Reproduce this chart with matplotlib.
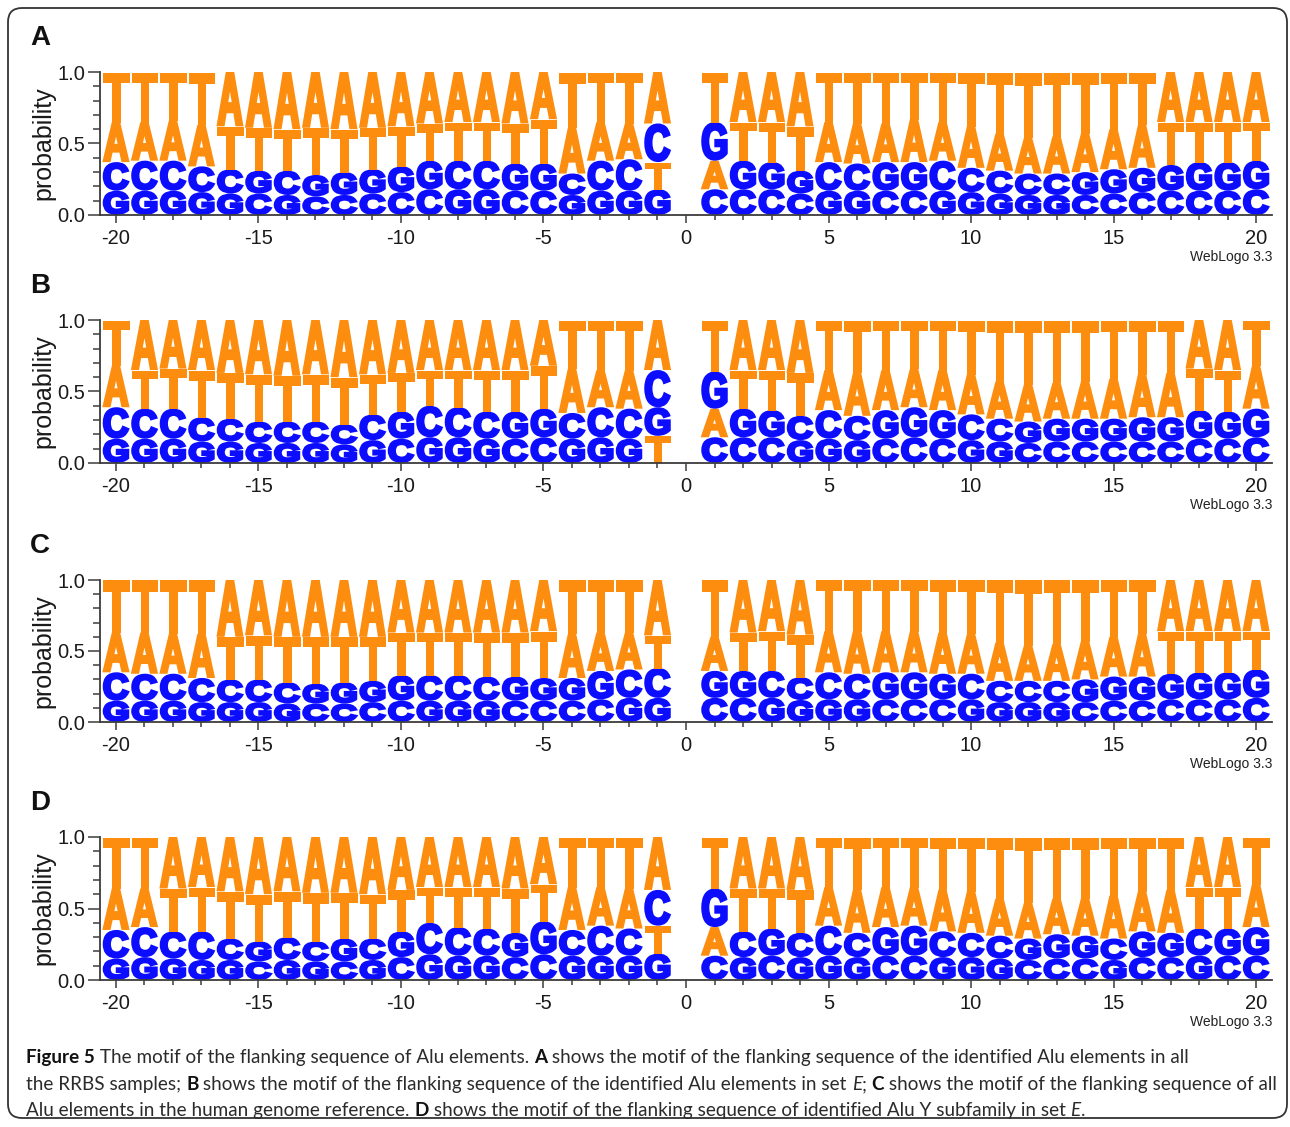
import matplotlib

matplotlib.use("Agg")
import matplotlib.pyplot as plt
from matplotlib.font_manager import FontProperties
from matplotlib.patches import FancyBboxPatch, PathPatch
from matplotlib.textpath import TextPath
from matplotlib.transforms import Affine2D

# sequence positions around the Alu insertion site (0 is the site itself)
positions = list(range(-20, 0)) + list(range(1, 21))

# --- panel A: all RRBS samples ---
a_A = [.28, .27, .28, .29, .38, .39, .40, .39, .40, .39, .38, .36, .35, .35, .36, .33, .32, .27, .25, .36,
       .20, .35, .35, .38, .28, .28, .27, .30, .27, .29, .26, .25, .26, .27, .28, .30, .35, .35, .35, .35]
a_C = [.20, .21, .21, .18, .17, .15, .17, .13, .14, .15, .16, .18, .20, .20, .17, .17, .15, .21, .22, .27,
       .18, .18, .18, .15, .20, .19, .17, .17, .21, .17, .16, .15, .15, .14, .15, .16, .17, .17, .17, .18]
a_G = [.17, .17, .17, .16, .15, .16, .14, .15, .16, .17, .18, .20, .18, .18, .19, .19, .14, .17, .17, .18,
       .27, .20, .19, .16, .17, .17, .20, .20, .17, .16, .15, .14, .14, .16, .17, .17, .18, .20, .20, .20]
a_T = [.35, .35, .34, .37, .30, .30, .29, .33, .30, .29, .28, .26, .27, .27, .28, .31, .39, .35, .36, .19,
       .35, .27, .28, .31, .35, .36, .36, .33, .35, .38, .43, .46, .45, .43, .40, .37, .30, .28, .28, .27]

# --- panel B: set E ---
b_A = [.29, .35, .34, .35, .37, .38, .39, .38, .40, .38, .37, .35, .35, .35, .35, .32, .31, .26, .27, .35,
       .20, .35, .35, .37, .28, .30, .28, .27, .28, .28, .26, .26, .25, .26, .28, .30, .31, .34, .35, .30]
b_C = [.22, .21, .21, .17, .16, .15, .15, .15, .14, .18, .17, .22, .21, .19, .17, .18, .18, .21, .21, .26,
       .18, .18, .18, .17, .20, .17, .17, .18, .17, .18, .16, .14, .15, .15, .15, .15, .15, .17, .17, .18]
b_G = [.17, .17, .17, .15, .15, .14, .14, .14, .13, .16, .19, .18, .18, .17, .19, .20, .17, .18, .17, .20,
       .26, .20, .19, .16, .17, .16, .20, .21, .20, .16, .15, .15, .16, .16, .16, .17, .17, .20, .19, .20]
b_T = [.32, .27, .28, .33, .32, .33, .32, .33, .33, .28, .27, .25, .26, .29, .29, .30, .34, .35, .35, .19,
       .36, .27, .28, .30, .35, .37, .35, .34, .35, .38, .43, .45, .44, .43, .41, .38, .37, .29, .29, .32]

# --- panel C: human genome reference ---
c_A = [.28, .29, .28, .31, .40, .39, .40, .40, .40, .40, .37, .37, .37, .37, .37, .36, .31, .27, .26, .39,
       .24, .37, .36, .385, .29, .30, .29, .29, .29, .28, .27, .25, .26, .27, .28, .30, .36, .36, .36, .36]
c_C = [.20, .19, .19, .17, .16, .16, .15, .13, .13, .14, .15, .18, .18, .17, .15, .15, .15, .16, .20, .21,
       .17, .17, .19, .16, .19, .18, .16, .16, .16, .18, .15, .15, .15, .14, .15, .15, .16, .16, .16, .17]
c_G = [.15, .15, .15, .14, .14, .14, .13, .14, .15, .15, .18, .15, .15, .15, .17, .16, .16, .20, .17, .17,
       .19, .19, .17, .155, .16, .16, .19, .19, .18, .16, .14, .14, .14, .16, .17, .17, .18, .19, .19, .20]
c_T = [.37, .37, .38, .38, .30, .31, .32, .33, .32, .31, .30, .30, .30, .31, .31, .33, .38, .37, .37, .23,
       .40, .27, .28, .30, .36, .36, .36, .36, .37, .38, .44, .46, .45, .43, .40, .38, .30, .29, .29, .27]

# --- panel D: Alu Y subfamily in set E ---
d_A = [.29, .27, .36, .35, .38, .40, .38, .39, .39, .40, .37, .35, .35, .35, .36, .33, .30, .27, .28, .37,
       .20, .36, .36, .37, .27, .30, .28, .27, .29, .29, .26, .25, .25, .26, .30, .28, .30, .35, .35, .30]
d_C = [.20, .21, .19, .20, .15, .13, .16, .14, .13, .15, .16, .22, .20, .19, .16, .18, .18, .21, .19, .25,
       .17, .18, .17, .17, .21, .17, .17, .17, .18, .17, .16, .14, .15, .15, .15, .16, .16, .19, .17, .17]
d_G = [.15, .16, .15, .14, .14, .14, .14, .13, .16, .14, .18, .18, .17, .17, .17, .23, .17, .17, .17, .185,
       .27, .16, .19, .16, .17, .16, .20, .21, .16, .16, .15, .15, .17, .16, .14, .18, .17, .17, .19, .20]
d_T = [.36, .36, .30, .31, .33, .33, .32, .34, .32, .31, .29, .25, .28, .29, .31, .26, .35, .35, .36, .195,
       .36, .30, .28, .30, .35, .37, .35, .35, .37, .38, .43, .46, .43, .43, .41, .38, .37, .29, .29, .33]

panels = [
    ("A", {"A": a_A, "C": a_C, "G": a_G, "T": a_T}, 72, 215),
    ("B", {"A": b_A, "C": b_C, "G": b_G, "T": b_T}, 320, 463),
    ("C", {"A": c_A, "C": c_C, "G": c_G, "T": c_T}, 580, 722),
    ("D", {"A": d_A, "C": d_C, "G": d_G, "T": d_T}, 837, 980),
]

caption_lines = [
    [("Figure 5", "bold", "normal"),
     (" The motif of the flanking sequence of Alu elements. ", "normal", "normal"),
     ("A", "bold", "normal"),
     (" shows the motif of the flanking sequence of the identified Alu elements in all", "normal", "normal")],
    [("the RRBS samples; ", "normal", "normal"),
     ("B", "bold", "normal"),
     (" shows the motif of the flanking sequence of the identified Alu elements in set ", "normal", "normal"),
     ("E", "normal", "italic"),
     ("; ", "normal", "normal"),
     ("C", "bold", "normal"),
     (" shows the motif of the flanking sequence of all", "normal", "normal")],
    [("Alu elements in the human genome reference. ", "normal", "normal"),
     ("D", "bold", "normal"),
     (" shows the motif of the flanking sequence of identified Alu Y subfamily in set ", "normal", "normal"),
     ("E", "normal", "italic"),
     (".", "normal", "normal")],
]

ORANGE = "#fd8d0e"
BLUE = "#0c0cff"
COLORS = {"A": ORANGE, "T": ORANGE, "C": BLUE, "G": BLUE}
AXIS_COLOR = "#3c3c3c"

W, H = 1290, 1127
plt.rcParams["axes.unicode_minus"] = False
plt.rcParams["font.family"] = ["Liberation Sans", "DejaVu Sans"]

GLYPH_FONT = FontProperties(family="Liberation Sans", weight="bold")
STROKE_PX = 3.0          # outline that fattens the glyph strokes
PX_PER_X = 28.5          # pixels per sequence position
PX_PER_Y = 143.0         # pixels per unit probability
_glyph_cache = {}


def glyph(letter):
    if letter not in _glyph_cache:
        tp = TextPath((0, 0), letter, size=1, prop=GLYPH_FONT)
        _glyph_cache[letter] = (tp, tp.get_extents())
    return _glyph_cache[letter]


def draw_letter(ax, letter, x, y0, h, width=0.93):
    tp, ext = glyph(letter)
    # shrink the box by half the stroke so the outlined glyph fills it exactly
    dx = STROKE_PX / 2 / PX_PER_X
    dy = STROKE_PX / 2 / PX_PER_Y
    w_in = width - 2 * dx
    h_in = max(h - 2 * dy, h * 0.5)
    tr = (Affine2D()
          .translate(-ext.x0, -ext.y0)
          .scale(w_in / ext.width, h_in / ext.height)
          .translate(x - w_in / 2, y0 + (h - h_in) / 2))
    ax.add_patch(PathPatch(tr.transform_path(tp), facecolor=COLORS[letter],
                           edgecolor=COLORS[letter], lw=STROKE_PX * 0.72,
                           joinstyle="miter"))


def draw_logo(ax, probs):
    for i, pos in enumerate(positions):
        col = {k: v[i] for k, v in probs.items()}
        total = sum(col.values())
        y = 0.0
        # smallest probability at the bottom, largest on top
        for letter, p in sorted(col.items(), key=lambda kv: kv[1]):
            h = p / total
            draw_letter(ax, letter, pos, y, h)
            y += h


fig = plt.figure(figsize=(W / 100, H / 100), dpi=100)

# background layer in pixel units: frame, panel letters, caption
bg = fig.add_axes([0, 0, 1, 1])
bg.set_xlim(0, W)
bg.set_ylim(H, 0)
bg.axis("off")
bg.add_patch(FancyBboxPatch((8, 8), W - 11, 1110,
                            boxstyle="round,pad=0,rounding_size=14",
                            facecolor="none", edgecolor="#333333", lw=1.3))

x_left, x_right = 100, 1272
for name, probs, top_px, zero_px in panels:
    ax = fig.add_axes([x_left / W, 1 - zero_px / H,
                       (x_right - x_left) / W, (zero_px - top_px) / H])
    draw_logo(ax, probs)
    ax.set_xlim(-20.56, 20.56)
    ax.set_ylim(0, 1)
    ax.patch.set_alpha(0)
    for side in ("top", "right"):
        ax.spines[side].set_visible(False)
    for side in ("left", "bottom"):
        ax.spines[side].set_color(AXIS_COLOR)
        ax.spines[side].set_linewidth(1.3)
    ax.spines["left"].set_bounds(0, 1)

    ax.set_xticks([-20, -15, -10, -5, 0, 5, 10, 15, 20])
    ax.set_xticklabels(["-20", "-15", "-10", "-5", "0", "5", "10", "15", "20"])
    ax.set_xticks(range(-20, 21), minor=True)
    ax.set_yticks([0, 0.5, 1.0])
    ax.set_yticklabels(["0.0", "0.5", "1.0"])
    ax.set_yticks([i / 10 for i in range(11)], minor=True)
    ax.tick_params(axis="both", which="both", direction="out", colors=AXIS_COLOR,
                   labelcolor="#1a1a1a", labelsize=14.5, width=1.1)
    ax.tick_params(axis="x", which="major", length=6, pad=4)
    ax.tick_params(axis="x", which="minor", length=3.5)
    ax.tick_params(axis="y", which="major", length=9, pad=1.5)
    ax.tick_params(axis="y", which="minor", length=5)

    bg.text(30, top_px - 34, name, fontsize=20, fontweight="bold",
            ha="left", va="center", color="#111111")
    bg.text(43, (top_px + zero_px) / 2, "probability", rotation=90,
            fontsize=18, ha="center", va="center", color="#1a1a1a")
    bg.text(x_right, zero_px + 42, "WebLogo 3.3", fontsize=10,
            ha="right", va="center", color="#222222")

# caption, assembled run by run so bold / italic pieces sit inline
CAPTION_FAMILY = ["Lato", "DejaVu Sans"]
fig.canvas.draw()
renderer = fig.canvas.get_renderer()


def caption_width(runs, size):
    total = 0.0
    for text, weight, style in runs:
        t = bg.text(0, 0, text, fontsize=size, fontweight=weight, fontstyle=style,
                    family=CAPTION_FAMILY)
        total += t.get_window_extent(renderer).width
        t.remove()
    return total


# the second line is the longest and runs to the right frame edge
base = 14.0
cap_size = base * (1278 - 26) / caption_width(caption_lines[1], base)

for line, y in zip(caption_lines, [1063, 1090, 1116]):
    x = 26
    for text, weight, style in line:
        t = bg.text(x, y, text, fontsize=cap_size, fontweight=weight, fontstyle=style,
                    family=CAPTION_FAMILY, ha="left", va="baseline",
                    color="#111111" if weight == "bold" else "#2b2b2b")
        x += t.get_window_extent(renderer).width

fig.savefig("out.png", dpi=100)
